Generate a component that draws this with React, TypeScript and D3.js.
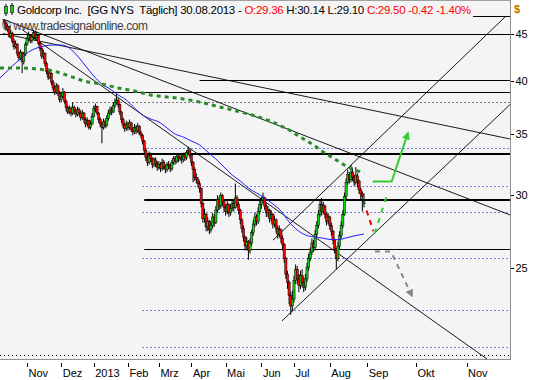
import React from 'react';
import * as d3 from 'd3';

const W = 540;
const H = 380;
const PLOT_R = 510;
const PLOT_B = 359;
const IDX_FIRST = -2.6;
const IDX_LAST = 310.7;
const PRICE_MIN = 19.86;
const PRICE_MAX = 49.06;

const monthLabels = ['Nov', 'Dez', '2013', 'Feb', 'Mrz', 'Apr', 'Mai', 'Jun', 'Jul', 'Aug', 'Sep', 'Okt', 'Nov'];
const monthIdx = [14, 35, 55, 76, 95, 115, 136, 158, 178, 200, 223, 253, 284];
const yTicks = [25, 30, 35, 40, 45];

const opens = [
  46.6,46.3,45.6,45.9,44.8,45.1,44.2,43.6,43.9,42.9,42.4,43.0,42.0,42.8,
  43.9,44.5,44.9,44.3,44.7,45.2,44.6,44.9,44.0,43.4,42.6,42.9,41.8,41.0,40.4,40.8,39.9,39.3,38.9,39.5,38.8,
  38.2,38.5,38.9,38.0,37.4,37.0,37.3,36.9,37.4,37.1,36.8,37.2,36.9,36.5,36.9,36.3,35.9,36.2,35.6,35.9,
  36.6,37.3,37.5,36.9,36.3,35.9,35.6,36.1,35.8,36.4,36.9,37.2,37.0,37.6,37.9,38.1,37.7,37.0,36.3,35.8,35.5,
  35.9,35.6,36.0,35.4,35.2,35.6,35.3,35.7,35.1,34.9,34.4,33.6,33.0,32.6,33.2,32.9,32.4,32.8,32.5,
  32.2,32.4,32.1,32.6,32.2,32.0,32.4,32.3,32.1,32.6,32.9,32.7,33.1,32.9,33.0,32.8,33.2,33.0,33.4,33.6,
  33.2,32.6,32.0,31.4,31.2,30.9,30.5,29.4,28.3,28.6,27.7,28.1,27.5,27.8,28.4,28.0,28.9,29.7,29.2,30.0,29.5,
  29.1,28.8,29.3,28.7,29.0,29.4,29.1,29.8,29.3,28.9,28.2,27.6,27.0,26.4,26.7,26.1,26.6,27.3,27.9,28.4,28.1,28.8,
  29.3,29.6,29.8,29.2,28.7,28.9,28.3,28.6,27.9,28.2,27.6,27.2,27.5,26.9,26.5,25.6,24.6,24.1,23.3,22.7,
  23.1,24.2,24.9,24.3,23.9,24.5,24.1,23.8,24.3,25.0,25.6,26.0,26.6,26.3,27.2,27.8,28.6,29.3,28.8,29.2,28.6,28.1,
  28.4,27.8,27.4,26.8,26.2,25.6,26.4,27.1,27.8,28.6,29.9,31.0,31.6,31.2,31.8,31.4,31.0,31.5,31.1,30.4,30.1,29.36
];
const highs = [
  46.7,46.5,46.2,46.0,45.5,45.3,44.5,44.3,44.0,43.1,43.3,43.1,43.0,44.1,
  44.8,45.3,45.0,45.0,45.5,45.4,45.3,45.0,44.2,43.6,43.3,43.0,42.0,41.3,41.1,40.9,40.1,39.6,39.8,39.7,39.0,
  38.9,39.3,39.0,38.2,37.6,37.6,37.5,37.9,37.6,37.3,37.5,37.4,37.1,37.2,37.0,36.5,36.5,36.3,36.2,36.9,
  37.6,37.8,37.6,37.0,36.5,36.1,36.4,36.3,36.7,37.2,37.5,37.5,37.9,38.3,38.7,38.3,37.8,37.1,36.5,36.0,36.2,
  36.1,36.3,36.1,35.6,35.9,35.8,36.0,35.8,35.3,35.0,34.5,33.8,33.2,33.5,33.4,33.0,33.0,33.0,32.7,
  32.7,32.6,32.9,32.8,32.4,32.6,32.7,32.5,32.8,33.1,33.1,33.3,33.3,33.3,33.2,33.4,33.4,33.6,33.9,33.7,
  33.3,32.7,32.2,31.7,31.4,31.1,30.6,29.5,29.0,28.7,28.4,28.2,28.1,28.7,28.6,29.2,30.0,29.9,30.2,30.1,29.7,
  29.3,29.6,29.4,29.3,29.7,29.6,30.9,30.0,29.5,29.0,28.3,27.8,27.1,27.0,26.8,26.9,27.5,28.2,28.7,28.6,29.1,29.6,
  29.9,30.2,29.9,29.4,29.2,29.0,28.9,28.7,28.5,28.3,27.8,27.8,27.6,27.1,26.6,25.7,24.8,24.2,23.5,23.6,
  24.5,25.2,25.1,24.6,24.8,24.9,24.4,24.6,25.3,25.9,26.3,26.9,26.8,27.5,28.1,28.9,29.6,29.8,29.5,29.3,28.7,28.7,
  28.5,28.0,27.5,26.9,26.3,26.7,27.4,28.1,28.9,30.2,31.3,32.0,31.8,32.4,32.1,31.6,32.2,31.7,31.2,30.6,30.3,30.14
];
const lows = [
  46.0,45.4,45.3,44.6,44.5,44.0,43.3,43.4,42.6,42.1,42.2,40.8,41.7,42.6,
  43.7,44.2,44.0,44.0,44.4,44.3,44.4,43.8,43.1,42.3,42.3,41.5,40.7,40.1,40.2,39.6,39.0,38.6,38.7,38.5,37.9,
  37.9,38.3,37.8,37.1,36.8,36.8,36.6,36.7,36.8,36.5,36.6,36.6,36.2,36.3,36.0,35.6,35.7,35.4,35.4,35.8,
  36.5,37.0,36.7,36.0,35.6,34.2,35.4,35.5,35.6,36.2,36.7,36.7,36.9,37.4,37.7,37.4,36.7,36.0,35.5,35.2,35.3,
  35.3,35.4,35.2,34.9,35.0,35.0,35.1,34.9,34.6,34.1,33.3,32.7,32.3,32.4,32.6,32.1,32.2,32.2,31.9,
  32.0,31.8,31.9,32.0,31.7,31.8,32.0,31.8,31.9,32.4,32.4,32.5,32.6,32.7,32.5,32.6,32.7,32.8,33.2,32.9,
  32.3,31.0,31.1,30.9,30.6,30.2,29.1,28.0,28.0,27.4,27.4,27.2,27.3,27.6,27.7,27.9,28.7,28.9,29.0,29.2,28.8,
  28.5,28.6,28.4,28.5,28.8,28.8,29.0,29.1,28.6,27.9,27.3,26.7,26.1,26.2,25.5,25.9,26.4,27.1,27.7,27.8,27.9,28.6,
  29.0,29.4,28.9,28.4,28.4,28.0,28.1,27.6,27.7,27.3,26.9,27.0,26.6,26.1,25.3,24.3,23.7,22.8,22.2,22.4,
  22.9,24.0,24.0,23.5,23.7,23.8,23.5,23.6,24.1,24.8,25.4,25.8,26.0,26.1,27.0,27.6,28.4,28.5,28.6,28.3,27.8,27.9,
  27.5,27.1,26.5,25.9,24.9,25.4,26.2,26.9,27.6,28.5,29.7,30.8,30.9,31.0,31.1,30.7,30.8,30.6,30.1,29.7,28.8,29.10
];
const closes = [
  46.3,45.6,45.9,44.8,45.1,44.2,43.6,43.9,42.9,42.4,43.0,42.0,42.8,43.9,
  44.5,44.9,44.3,44.7,45.2,44.6,44.9,44.0,43.4,42.6,42.9,41.8,41.0,40.4,40.8,39.9,39.3,38.9,39.5,38.8,38.2,
  38.5,38.9,38.0,37.4,37.0,37.3,36.9,37.4,37.1,36.8,37.2,36.9,36.5,36.9,36.3,35.9,36.2,35.6,35.9,36.6,
  37.3,37.5,36.9,36.3,35.9,35.6,36.1,35.8,36.4,36.9,37.2,37.0,37.6,37.9,38.1,37.7,37.0,36.3,35.8,35.5,35.9,
  35.6,36.0,35.4,35.2,35.6,35.3,35.7,35.1,34.9,34.4,33.6,33.0,32.6,33.2,32.9,32.4,32.8,32.5,32.2,
  32.4,32.1,32.6,32.2,32.0,32.4,32.3,32.1,32.6,32.9,32.7,33.1,32.9,33.0,32.8,33.2,33.0,33.4,33.6,33.2,
  32.6,32.0,31.4,31.2,30.9,30.5,29.4,28.3,28.6,27.7,28.1,27.5,27.8,28.4,28.0,28.9,29.7,29.2,30.0,29.5,29.1,
  28.8,29.3,28.7,29.0,29.4,29.1,29.8,29.3,28.9,28.2,27.6,27.0,26.4,26.7,26.1,26.6,27.3,27.9,28.4,28.1,28.8,29.3,
  29.6,29.8,29.2,28.7,28.9,28.3,28.6,27.9,28.2,27.6,27.2,27.5,26.9,26.5,25.6,24.6,24.1,23.3,22.7,23.1,
  24.2,24.9,24.3,23.9,24.5,24.1,23.8,24.3,25.0,25.6,26.0,26.6,26.3,27.2,27.8,28.6,29.3,28.8,29.2,28.6,28.1,28.4,
  27.8,27.4,26.8,26.2,25.6,26.4,27.1,27.8,28.6,29.9,31.0,31.6,31.2,31.8,31.4,31.0,31.5,31.1,30.4,30.1,29.92,29.50
];

// moving averages: [bar index, price]
const ma50 = [
  [-2.6,40.31],[0,40.72],[5,41.55],[10,42.29],[15,43.04],[20,43.47],[25,43.70],[30,43.80],[35,43.80],[40,43.47],
  [45,42.61],[50,41.55],[55,40.51],[60,39.70],[65,39.21],[70,38.62],[75,38.14],[80,37.38],[85,36.72],[90,36.35],
  [95,36.08],[100,35.54],[105,35.00],[110,34.74],[115,34.39],[120,34.05],[125,33.45],[130,32.87],[135,32.21],
  [140,31.57],[145,31.10],[150,30.55],[155,30.17],[160,29.80],[165,29.35],[170,28.84],[175,28.05],[180,27.49],
  [185,27.14],[190,27.01],[195,26.94],[200,26.84],[205,26.82],[210,26.94],[215,27.08],[221,27.21]
];
const ma200 = [
  [-2.6,41.34],[0,41.34],[10,41.34],[20,41.23],[30,41.03],[40,40.51],[50,39.96],[60,39.70],[70,39.31],[80,39.01],
  [90,38.62],[100,38.43],[110,38.23],[120,37.94],[130,37.56],[140,37.19],[150,36.81],[160,36.35],[165,36.08],
  [170,35.72],[175,35.36],[180,34.91],[185,34.48],[190,34.05],[195,33.54],[200,33.12],[205,32.71],[210,32.30],
  [215,32.01],[221,31.73]
];

// horizontal levels: price, start index, kind
const blackLevels = [
  { p: 47.18, from: -2.6, kind: 'thin' },
  { p: 45.0, from: -2.6, kind: 'thin' },
  { p: 40.1, from: 120, kind: 'thin' },
  { p: 38.9, from: -2.6, kind: 'thin' },
  { p: 37.9, from: 42, kind: 'dot' },
  { p: 33.29, from: -2.6, kind: 'thick' },
  { p: 29.67, from: 86, kind: 'thick' },
  { p: 26.19, from: 86, kind: 'thin' },
  { p: 20.04, from: -2.6, kind: 'dot' }
];
const blueLevels = [
  { p: 33.77, from: 88 },
  { p: 30.68, from: 85 },
  { p: 28.74, from: 85 },
  { p: 25.6, from: 85 },
  { p: 22.46, from: 85 },
  { p: 20.48, from: 85 }
];
// trend lines: [index1, price1, index2, price2]
const trendLines = [
  [-0.74, 45.08, 310.7, 34.57],
  [-2.58, 46.89, 310.7, 28.55],
  [10.93, 45.54, 296.6, 19.86],
  [165.1, 26.79, 307.6, 47.0],
  [170.6, 21.86, 310.7, 37.7]
];
// scenario projections
const projUpDash = [[227.6, 27.25], [235.1, 30.0]];
const projUp = [[226.3, 31.05], [238.0, 31.05], [248.0, 35.1]];
const projDownDash = [[222.6, 28.86], [226.8, 27.41]];
const projGray = [[227.8, 26.03], [237.6, 26.03], [250.5, 23.28]];

export default function App() {
  const x = d3.scaleLinear().domain([IDX_FIRST, IDX_LAST]).range([0, PLOT_R]);
  const y = d3.scaleLog().domain([PRICE_MIN, PRICE_MAX]).range([PLOT_B, 0]);
  const line = d3.line<number[]>().x((d) => x(d[0])).y((d) => y(d[1]));
  const maLine = d3.line<number[]>().x((d) => x(d[0])).y((d) => y(d[1])).curve(d3.curveMonotoneX);
  const font = "'Liberation Sans', Arial, sans-serif";
  const green = '#11cc11';
  const red = '#ff0000';

  return (
    <svg width={W} height={H} style={{ position: 'fixed', left: 0, top: 0, background: '#fff' }} fontFamily={font}>
      <defs>
        <clipPath id="plotClip">
          <rect x={0} y={0} width={PLOT_R} height={PLOT_B} />
        </clipPath>
        <marker id="arrG" viewBox="0 0 10 10" refX="8" refY="5" markerWidth="4" markerHeight="4" orient="auto" markerUnits="strokeWidth">
          <path d="M0,0 L10,5 L0,10 z" fill="#33cc33" />
        </marker>
        <marker id="arrGray" viewBox="0 0 10 10" refX="8" refY="5" markerWidth="4" markerHeight="4" orient="auto" markerUnits="strokeWidth">
          <path d="M0,0 L10,5 L0,10 z" fill="#888" />
        </marker>
      </defs>
      <rect x={0} y={0} width={PLOT_R} height={PLOT_B} fill="#f4f4f4" />
      <g clipPath="url(#plotClip)">
        {blueLevels.map((l, i) => (
          <line key={'b' + i} x1={x(l.from)} x2={PLOT_R} y1={Math.round(y(l.p)) + 0.5} y2={Math.round(y(l.p)) + 0.5}
            stroke="#0000ff" strokeWidth={1} strokeDasharray="1,3" />
        ))}
        {blackLevels.map((l, i) => (
          <line key={'k' + i} x1={x(l.from)} x2={PLOT_R}
            y1={Math.round(y(l.p)) + (l.kind === 'thick' ? 0 : 0.5)} y2={Math.round(y(l.p)) + (l.kind === 'thick' ? 0 : 0.5)}
            stroke="#000" strokeWidth={l.kind === 'thick' ? 2 : 1} strokeDasharray={l.kind === 'dot' ? '1,3' : undefined} />
        ))}
        {trendLines.map((t, i) => (
          <line key={'t' + i} x1={x(t[0])} y1={y(t[1])} x2={x(t[2])} y2={y(t[3])} stroke="#000" strokeWidth={0.9} />
        ))}
        {closes.map((c, i) => {
          const o = opens[i];
          const cx = x(i);
          const top = y(Math.max(o, c));
          const bot = y(Math.min(o, c));
          return (
            <g key={'c' + i}>
              <line x1={cx} x2={cx} y1={y(highs[i])} y2={y(lows[i])} stroke="#000" strokeWidth={1} />
              <rect x={cx - 1.1} y={top} width={2.2} height={Math.max(1, bot - top)}
                fill={c >= o ? green : red} stroke="#000" strokeWidth={0.5} />
            </g>
          );
        })}
        <path d={maLine(ma50) || ''} fill="none" stroke="#1a1aff" strokeWidth={1} />
        <path d={maLine(ma200) || ''} fill="none" stroke="#2a8a2a" strokeWidth={3} strokeDasharray="4,4" />
        <path d={line(projDownDash) || ''} fill="none" stroke="#ee0000" strokeWidth={2} strokeDasharray="5,5" />
        <path d={line(projUpDash) || ''} fill="none" stroke="#33cc33" strokeWidth={2} strokeDasharray="5,6" />
        <path d={line(projUp) || ''} fill="none" stroke="#33cc33" strokeWidth={2} markerEnd="url(#arrG)" />
        <path d={line(projGray) || ''} fill="none" stroke="#888" strokeWidth={2} strokeDasharray="5,5" markerEnd="url(#arrGray)" />
      </g>
      {/* header */}
      <rect x={0} y={0} width={473} height={19} fill="#f4f4f4" />
      <line x1={0} x2={PLOT_R} y1={0.5} y2={0.5} stroke="#a0a0a0" />
      <g>
        <line x1={6} x2={6} y1={4} y2={16} stroke="#000" />
        <rect x={4.5} y={6.5} width={3} height={7} fill="#22cc22" stroke="#000" strokeWidth={0.6} />
        <line x1={12} x2={12} y1={3} y2={15} stroke="#000" />
        <rect x={10.5} y={5.5} width={3} height={7} fill="#22cc22" stroke="#000" strokeWidth={0.6} />
      </g>
      <text x={17} y={14} fontSize={11.5} textLength={454} lengthAdjust="spacing" style={{ whiteSpace: 'pre' }}>
        <tspan fill="#000">{'Goldcorp Inc.  [GG NYS  Täglich] 30.08.2013 - '}</tspan>
        <tspan fill="#ff0000">{'O:29.36 '}</tspan>
        <tspan fill="#000">{'H:30.14 L:29.10 '}</tspan>
        <tspan fill="#ff0000">{'C:29.50 -0.42 -1.40%'}</tspan>
      </text>
      <text x={2} y={30} fontSize={12} fill="#404040" textLength={146} lengthAdjust="spacing">© www.tradesignalonline.com</text>
      {/* frame */}
      <line x1={PLOT_R + 0.5} x2={PLOT_R + 0.5} y1={0} y2={PLOT_B + 1} stroke="#909090" />
      <line x1={0} x2={PLOT_R + 1} y1={PLOT_B + 0.5} y2={PLOT_B + 0.5} stroke="#909090" />
      {/* y axis */}
      <text x={514} y={13} fontSize={11} fill="#c07000" fontWeight="bold">$</text>
      {yTicks.map((t) => (
        <g key={'y' + t}>
          <line x1={511} x2={514} y1={Math.round(y(t)) + 0.5} y2={Math.round(y(t)) + 0.5} stroke="#000" />
          <text x={515.5} y={y(t) + 4} fontSize={11} fill="#000">{t}</text>
        </g>
      ))}
      {/* x axis */}
      {monthIdx.map((m, i) => (
        <g key={'m' + i}>
          <line x1={Math.round(x(m)) + 0.5} x2={Math.round(x(m)) + 0.5} y1={363} y2={367} stroke="#000" />
          <text x={x(m) + 1.5} y={376.5} fontSize={11} fill="#000">{monthLabels[i]}</text>
        </g>
      ))}
    </svg>
  );
}
